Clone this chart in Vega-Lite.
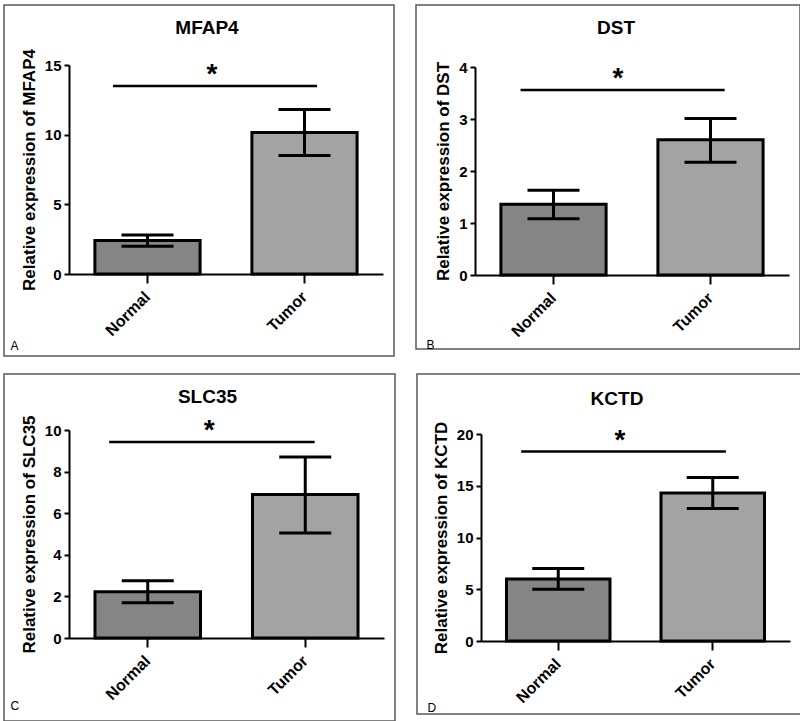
{
  "$schema": "https://vega.github.io/schema/vega-lite/v6.json",
  "padding": {"left": 3, "top": 4, "right": 0, "bottom": 0},
  "background": "white",
  "spacing": 16,
  "config": {
    "font": "Liberation Sans",
    "view": {"stroke": "#5a5a5a", "strokeWidth": 1.5},
    "axis": {"grid": false, "domainColor": "black", "domainWidth": 2, "tickColor": "black", "tickWidth": 2, "labelColor": "black", "labelFont": "Liberation Sans", "labelFontWeight": "bold", "titleColor": "black", "titleFont": "Liberation Sans"},
    "title": {"font": "Liberation Sans", "fontSize": 19, "fontWeight": "bold", "color": "black", "anchor": "middle", "frame": "group", "baseline": "alphabetic", "dx": 8}
  },
  "vconcat": [
    {
      "spacing": 20,
      "hconcat": [
        {
          "width": 390, "height": 351,
          "title": {"text": "MFAP4", "offset": -33},
          "resolve": {"scale": {"x": "independent"}},
          "layer": [
            {
              "data": {"values": [{"group": "Normal", "mean": 2.4, "lo": 2.0, "hi": 2.8}, {"group": "Tumor", "mean": 10.15, "lo": 8.5, "hi": 11.8}]},
              "encoding": {"x": {"field": "group", "type": "nominal", "sort": ["Normal", "Tumor"], "scale": {"range": [65, 379], "paddingInner": 0.33, "paddingOuter": 0.165}, "axis": {"offset": -82, "labelAngle": -45, "labelAlign": "right", "labelBaseline": "middle", "labelFontSize": 16, "labelPadding": 11, "tickSize": 9, "title": "A", "titleX": 6, "titleY": 75, "titleAngle": 0, "titleAlign": "left", "titleBaseline": "alphabetic", "titleFontSize": 12, "titleFontWeight": "normal"}}},
              "layer": [
                {"mark": {"type": "bar", "stroke": "black", "strokeWidth": 3}, "encoding": {"y": {"field": "mean", "type": "quantitative", "scale": {"domain": [0, 15], "range": [269, 60], "nice": false}, "axis": {"offset": -65, "values": [0, 5, 10, 15], "format": "d", "tickSize": 5, "labelFontSize": 15, "labelPadding": 3, "title": "Relative expression of MFAP4", "titleFontSize": 17, "titleFontWeight": "bold", "titlePadding": 6}}, "color": {"field": "group", "type": "nominal", "scale": {"domain": ["Normal", "Tumor"], "range": ["#858585", "#a3a3a3"]}, "legend": null}}},
                {"mark": {"type": "rule", "strokeWidth": 3, "color": "black"}, "encoding": {"y": {"field": "lo", "type": "quantitative", "scale": {"domain": [0, 15], "range": [269, 60], "nice": false}}, "y2": {"field": "hi"}}},
                {"mark": {"type": "tick", "thickness": 3, "size": 52, "color": "black", "opacity": 1}, "encoding": {"y": {"field": "hi", "type": "quantitative", "scale": {"domain": [0, 15], "range": [269, 60], "nice": false}}}},
                {"mark": {"type": "tick", "thickness": 3, "size": 52, "color": "black", "opacity": 1}, "encoding": {"y": {"field": "lo", "type": "quantitative", "scale": {"domain": [0, 15], "range": [269, 60], "nice": false}}}}
              ]
            },
            {
              "data": {"values": [{"x1": 0.28, "x2": 1.58, "xs": 0.91, "sig": 13.5}]},
              "layer": [
                {"mark": {"type": "rule", "strokeWidth": 2.5, "color": "black"}, "encoding": {"x": {"field": "x1", "type": "quantitative", "scale": {"domain": [0, 2], "range": [65, 379], "nice": false, "zero": false}, "axis": null}, "x2": {"field": "x2"}, "y": {"field": "sig", "type": "quantitative", "scale": {"domain": [0, 15], "range": [269, 60], "nice": false}}}},
                {"mark": {"type": "text", "text": "*", "fontSize": 28, "fontWeight": "bold", "baseline": "alphabetic", "dy": -3, "color": "black"}, "encoding": {"x": {"field": "xs", "type": "quantitative", "scale": {"domain": [0, 2], "range": [65, 379], "nice": false, "zero": false}, "axis": null}, "y": {"field": "sig", "type": "quantitative", "scale": {"domain": [0, 15], "range": [269, 60], "nice": false}}}}
              ]
            }
          ]
        },
        {
          "width": 384, "height": 344,
          "title": {"text": "DST", "offset": -33},
          "resolve": {"scale": {"x": "independent"}},
          "layer": [
            {
              "data": {"values": [{"group": "Normal", "mean": 1.36, "lo": 1.08, "hi": 1.63}, {"group": "Tumor", "mean": 2.6, "lo": 2.17, "hi": 3.01}]},
              "encoding": {"x": {"field": "group", "type": "nominal", "sort": ["Normal", "Tumor"], "scale": {"range": [59, 373], "paddingInner": 0.33, "paddingOuter": 0.165}, "axis": {"offset": -74, "labelAngle": -45, "labelAlign": "right", "labelBaseline": "middle", "labelFontSize": 16, "labelPadding": 11, "tickSize": 9, "title": "B", "titleX": 10, "titleY": 73, "titleAngle": 0, "titleAlign": "left", "titleBaseline": "alphabetic", "titleFontSize": 12, "titleFontWeight": "normal"}}},
              "layer": [
                {"mark": {"type": "bar", "stroke": "black", "strokeWidth": 3}, "encoding": {"y": {"field": "mean", "type": "quantitative", "scale": {"domain": [0, 4], "range": [270, 62], "nice": false}, "axis": {"offset": -59, "values": [0, 1, 2, 3, 4], "format": "d", "tickSize": 5, "labelFontSize": 15, "labelPadding": 3, "title": "Relative expression of DST", "titleFontSize": 17, "titleFontWeight": "bold", "titlePadding": 6}}, "color": {"field": "group", "type": "nominal", "scale": {"domain": ["Normal", "Tumor"], "range": ["#858585", "#a3a3a3"]}, "legend": null}}},
                {"mark": {"type": "rule", "strokeWidth": 3, "color": "black"}, "encoding": {"y": {"field": "lo", "type": "quantitative", "scale": {"domain": [0, 4], "range": [270, 62], "nice": false}}, "y2": {"field": "hi"}}},
                {"mark": {"type": "tick", "thickness": 3, "size": 52, "color": "black", "opacity": 1}, "encoding": {"y": {"field": "hi", "type": "quantitative", "scale": {"domain": [0, 4], "range": [270, 62], "nice": false}}}},
                {"mark": {"type": "tick", "thickness": 3, "size": 52, "color": "black", "opacity": 1}, "encoding": {"y": {"field": "lo", "type": "quantitative", "scale": {"domain": [0, 4], "range": [270, 62], "nice": false}}}}
              ]
            },
            {
              "data": {"values": [{"x1": 0.29, "x2": 1.59, "xs": 0.91, "sig": 3.56}]},
              "layer": [
                {"mark": {"type": "rule", "strokeWidth": 2.5, "color": "black"}, "encoding": {"x": {"field": "x1", "type": "quantitative", "scale": {"domain": [0, 2], "range": [59, 373], "nice": false, "zero": false}, "axis": null}, "x2": {"field": "x2"}, "y": {"field": "sig", "type": "quantitative", "scale": {"domain": [0, 4], "range": [270, 62], "nice": false}}}},
                {"mark": {"type": "text", "text": "*", "fontSize": 28, "fontWeight": "bold", "baseline": "alphabetic", "dy": -3, "color": "black"}, "encoding": {"x": {"field": "xs", "type": "quantitative", "scale": {"domain": [0, 2], "range": [59, 373], "nice": false, "zero": false}, "axis": null}, "y": {"field": "sig", "type": "quantitative", "scale": {"domain": [0, 4], "range": [270, 62], "nice": false}}}}
              ]
            }
          ]
        }
      ]
    },
    {
      "spacing": 20,
      "hconcat": [
        {
          "width": 391, "height": 347,
          "title": {"text": "SLC35", "offset": -33},
          "resolve": {"scale": {"x": "independent"}},
          "layer": [
            {
              "data": {"values": [{"group": "Normal", "mean": 2.22, "lo": 1.7, "hi": 2.75}, {"group": "Tumor", "mean": 6.9, "lo": 5.05, "hi": 8.7}]},
              "encoding": {"x": {"field": "group", "type": "nominal", "sort": ["Normal", "Tumor"], "scale": {"range": [65, 380], "paddingInner": 0.33, "paddingOuter": 0.165}, "axis": {"offset": -83, "labelAngle": -45, "labelAlign": "right", "labelBaseline": "middle", "labelFontSize": 16, "labelPadding": 11, "tickSize": 9, "title": "C", "titleX": 6, "titleY": 71, "titleAngle": 0, "titleAlign": "left", "titleBaseline": "alphabetic", "titleFontSize": 12, "titleFontWeight": "normal"}}},
              "layer": [
                {"mark": {"type": "bar", "stroke": "black", "strokeWidth": 3}, "encoding": {"y": {"field": "mean", "type": "quantitative", "scale": {"domain": [0, 10], "range": [264, 56], "nice": false}, "axis": {"offset": -65, "values": [0, 2, 4, 6, 8, 10], "format": "d", "tickSize": 5, "labelFontSize": 15, "labelPadding": 3, "title": "Relative expression of SLC35", "titleFontSize": 17, "titleFontWeight": "bold", "titlePadding": 6}}, "color": {"field": "group", "type": "nominal", "scale": {"domain": ["Normal", "Tumor"], "range": ["#858585", "#a3a3a3"]}, "legend": null}}},
                {"mark": {"type": "rule", "strokeWidth": 3, "color": "black"}, "encoding": {"y": {"field": "lo", "type": "quantitative", "scale": {"domain": [0, 10], "range": [264, 56], "nice": false}}, "y2": {"field": "hi"}}},
                {"mark": {"type": "tick", "thickness": 3, "size": 52, "color": "black", "opacity": 1}, "encoding": {"y": {"field": "hi", "type": "quantitative", "scale": {"domain": [0, 10], "range": [264, 56], "nice": false}}}},
                {"mark": {"type": "tick", "thickness": 3, "size": 52, "color": "black", "opacity": 1}, "encoding": {"y": {"field": "lo", "type": "quantitative", "scale": {"domain": [0, 10], "range": [264, 56], "nice": false}}}}
              ]
            },
            {
              "data": {"values": [{"x1": 0.255, "x2": 1.56, "xs": 0.89, "sig": 9.42}]},
              "layer": [
                {"mark": {"type": "rule", "strokeWidth": 2.5, "color": "black"}, "encoding": {"x": {"field": "x1", "type": "quantitative", "scale": {"domain": [0, 2], "range": [65, 380], "nice": false, "zero": false}, "axis": null}, "x2": {"field": "x2"}, "y": {"field": "sig", "type": "quantitative", "scale": {"domain": [0, 10], "range": [264, 56], "nice": false}}}},
                {"mark": {"type": "text", "text": "*", "fontSize": 28, "fontWeight": "bold", "baseline": "alphabetic", "dy": -3, "color": "black"}, "encoding": {"x": {"field": "xs", "type": "quantitative", "scale": {"domain": [0, 2], "range": [65, 380], "nice": false, "zero": false}, "axis": null}, "y": {"field": "sig", "type": "quantitative", "scale": {"domain": [0, 10], "range": [264, 56], "nice": false}}}}
              ]
            }
          ]
        },
        {
          "width": 384, "height": 340,
          "title": {"text": "KCTD", "offset": -35},
          "resolve": {"scale": {"x": "independent"}},
          "layer": [
            {
              "data": {"values": [{"group": "Normal", "mean": 6.0, "lo": 5.0, "hi": 7.0}, {"group": "Tumor", "mean": 14.3, "lo": 12.8, "hi": 15.8}]},
              "encoding": {"x": {"field": "group", "type": "nominal", "sort": ["Normal", "Tumor"], "scale": {"range": [64, 373], "paddingInner": 0.33, "paddingOuter": 0.165}, "axis": {"offset": -73, "labelAngle": -45, "labelAlign": "right", "labelBaseline": "middle", "labelFontSize": 16, "labelPadding": 11, "tickSize": 9, "title": "D", "titleX": 10, "titleY": 70, "titleAngle": 0, "titleAlign": "left", "titleBaseline": "alphabetic", "titleFontSize": 12, "titleFontWeight": "normal"}}},
              "layer": [
                {"mark": {"type": "bar", "stroke": "black", "strokeWidth": 3}, "encoding": {"y": {"field": "mean", "type": "quantitative", "scale": {"domain": [0, 20], "range": [267, 60], "nice": false}, "axis": {"offset": -64, "values": [0, 5, 10, 15, 20], "format": "d", "tickSize": 5, "labelFontSize": 15, "labelPadding": 3, "title": "Relative expression of KCTD", "titleFontSize": 17, "titleFontWeight": "bold", "titlePadding": 6}}, "color": {"field": "group", "type": "nominal", "scale": {"domain": ["Normal", "Tumor"], "range": ["#858585", "#a3a3a3"]}, "legend": null}}},
                {"mark": {"type": "rule", "strokeWidth": 3, "color": "black"}, "encoding": {"y": {"field": "lo", "type": "quantitative", "scale": {"domain": [0, 20], "range": [267, 60], "nice": false}}, "y2": {"field": "hi"}}},
                {"mark": {"type": "tick", "thickness": 3, "size": 52, "color": "black", "opacity": 1}, "encoding": {"y": {"field": "hi", "type": "quantitative", "scale": {"domain": [0, 20], "range": [267, 60], "nice": false}}}},
                {"mark": {"type": "tick", "thickness": 3, "size": 52, "color": "black", "opacity": 1}, "encoding": {"y": {"field": "lo", "type": "quantitative", "scale": {"domain": [0, 20], "range": [267, 60], "nice": false}}}}
              ]
            },
            {
              "data": {"values": [{"x1": 0.26, "x2": 1.585, "xs": 0.9, "sig": 18.3}]},
              "layer": [
                {"mark": {"type": "rule", "strokeWidth": 2.5, "color": "black"}, "encoding": {"x": {"field": "x1", "type": "quantitative", "scale": {"domain": [0, 2], "range": [64, 373], "nice": false, "zero": false}, "axis": null}, "x2": {"field": "x2"}, "y": {"field": "sig", "type": "quantitative", "scale": {"domain": [0, 20], "range": [267, 60], "nice": false}}}},
                {"mark": {"type": "text", "text": "*", "fontSize": 28, "fontWeight": "bold", "baseline": "alphabetic", "dy": -3, "color": "black"}, "encoding": {"x": {"field": "xs", "type": "quantitative", "scale": {"domain": [0, 2], "range": [64, 373], "nice": false, "zero": false}, "axis": null}, "y": {"field": "sig", "type": "quantitative", "scale": {"domain": [0, 20], "range": [267, 60], "nice": false}}}}
              ]
            }
          ]
        }
      ]
    }
  ]
}
